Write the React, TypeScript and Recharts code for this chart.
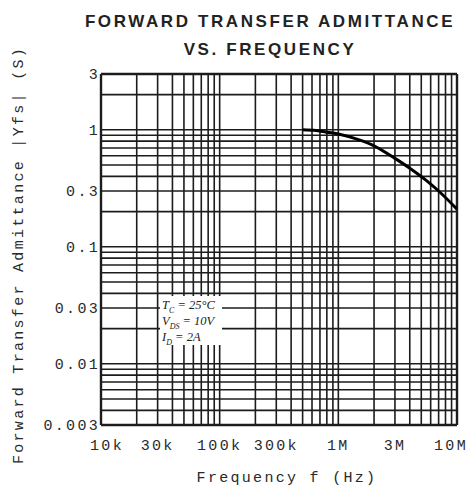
import { LineChart, Line, XAxis, YAxis, ReferenceLine } from "recharts";

// |Yfs| vs f
const freqHz = [5e5, 6.5e5, 8e5, 1e6, 1.5e6, 2e6, 3e6, 4e6, 5.5e6, 7e6, 1e7];
const yfsS = [1.0, 0.985, 0.955, 0.92, 0.82, 0.73, 0.57, 0.47, 0.37, 0.3, 0.21];

const xTicks = [1e4, 3e4, 1e5, 3e5, 1e6, 3e6, 1e7];
const xTickLabels = ["10k", "30k", "100k", "300k", "1M", "3M", "10M"];
const yTicks = [0.003, 0.01, 0.03, 0.1, 0.3, 1, 3];
const yTickLabels = ["0.003", "0.01", "0.03", "0.1", "0.3", "1", "3"];

// log grid: mantissas per decade
const mantissas = [1, 2, 3, 4, 5, 6, 7, 8, 9];
const xDecades = [1e4, 1e5, 1e6];
const yGridLow = [0.004, 0.005, 0.006, 0.007, 0.008, 0.009];
const yDecades = [0.01, 0.1];
const yGridHigh = [1, 2];

const xGrid = [...xDecades.flatMap((d) => mantissas.map((m) => m * d)), 1e7];
const yGrid = [...yGridLow, ...yDecades.flatMap((d) => mantissas.map((m) => m * d)), ...yGridHigh];

const data = freqHz.map((f, i) => ({ f, yfs: yfsS[i] }));

const INK = "#1c1c1c";
const MONO = "'Liberation Mono', 'DejaVu Sans Mono', monospace";
const tickStyle = { fontSize: 15, fontFamily: MONO, fill: "#2a2a2a", letterSpacing: 2.3 };

// first and last labels are nudged inward like on the printed sheet
function XTick({ x, y, payload, index }: any) {
  const dx = index === 0 ? 6 : index === xTicks.length - 1 ? -6 : 0;
  return (
    <text x={x + dx} y={y} dy="0.71em" textAnchor="middle" style={tickStyle}>
      {xTickLabels[xTicks.indexOf(payload.value)] ?? ""}
    </text>
  );
}

export default function App() {
  return (
    <div style={{ position: "absolute", left: 0, top: 0, width: 472, height: 496, background: "#fff" }}>
      <div
        style={{
          position: "absolute", left: 70, width: 400, top: 8, textAlign: "center", zIndex: 5,
          fontFamily: "'Liberation Sans', Arial, sans-serif", fontWeight: "bold",
          fontSize: 17, letterSpacing: 2.6, lineHeight: "28px", color: "#222",
        }}
      >
        FORWARD TRANSFER ADMITTANCE
        <br />
        VS. FREQUENCY
      </div>

      <LineChart width={472} height={496} data={data} margin={{ top: 74, right: 15, bottom: 0, left: 0 }}>
        <XAxis
          dataKey="f" type="number" scale="log" domain={[1e4, 1e7]} ticks={xTicks}
          axisLine={false} tickLine={false} tickSize={0} tickMargin={14}
          height={71} tick={<XTick />} interval={0} allowDataOverflow
        />
        <YAxis
          type="number" scale="log" domain={[0.003, 3]} ticks={yTicks}
          tickFormatter={(v) => yTickLabels[yTicks.indexOf(v)] ?? ""}
          axisLine={false} tickLine={false} tickSize={0} tickMargin={1}
          width={101} tick={tickStyle} interval={0} allowDataOverflow
        />
        {xGrid.map((v) => (
          <ReferenceLine key={"x" + v} x={v} stroke={INK} strokeWidth={v === 1e4 || v === 1e7 ? 2.4 : 1.6} ifOverflow="extendDomain" />
        ))}
        {yGrid.map((v) => (
          <ReferenceLine key={"y" + v} y={v} stroke={INK} strokeWidth={1.6} ifOverflow="extendDomain" />
        ))}
        <ReferenceLine y={0.003} stroke={INK} strokeWidth={2.4} />
        <ReferenceLine y={3} stroke={INK} strokeWidth={2.4} />
        <Line dataKey="yfs" type="monotone" stroke="#000" strokeWidth={3} dot={false} isAnimationActive={false} />
      </LineChart>

      <div
        style={{
          position: "absolute", left: 160, top: 296, width: 62, height: 49, background: "#fff", zIndex: 5,
          fontFamily: "'Liberation Serif', 'DejaVu Serif', serif", fontStyle: "italic",
          fontSize: 12.5, lineHeight: "16px", color: "#222", paddingLeft: 2, paddingTop: 1, boxSizing: "border-box",
        }}
      >
        <div>T<sub style={{ fontSize: 8, lineHeight: 0 }}>C</sub> = 25°C</div>
        <div>V<sub style={{ fontSize: 8, lineHeight: 0 }}>DS</sub> = 10V</div>
        <div>I<sub style={{ fontSize: 8, lineHeight: 0 }}>D</sub> = 2A</div>
      </div>

      <div
        style={{
          position: "absolute", left: 287 - 120, width: 240, top: 470, textAlign: "center", zIndex: 5,
          fontFamily: MONO, fontSize: 15, letterSpacing: 2.3, color: "#2a2a2a",
        }}
      >
        Frequency f (Hz)
      </div>

      <div
        style={{
          position: "absolute", left: 20 - 220, top: 255 - 10, width: 440, height: 20, zIndex: 5,
          textAlign: "center", transform: "rotate(-90deg)",
          fontFamily: MONO, fontSize: 15, letterSpacing: 2.3, lineHeight: "20px", color: "#2a2a2a",
        }}
      >
        Forward Transfer Admittance |Yfs| (S)
      </div>
    </div>
  );
}
